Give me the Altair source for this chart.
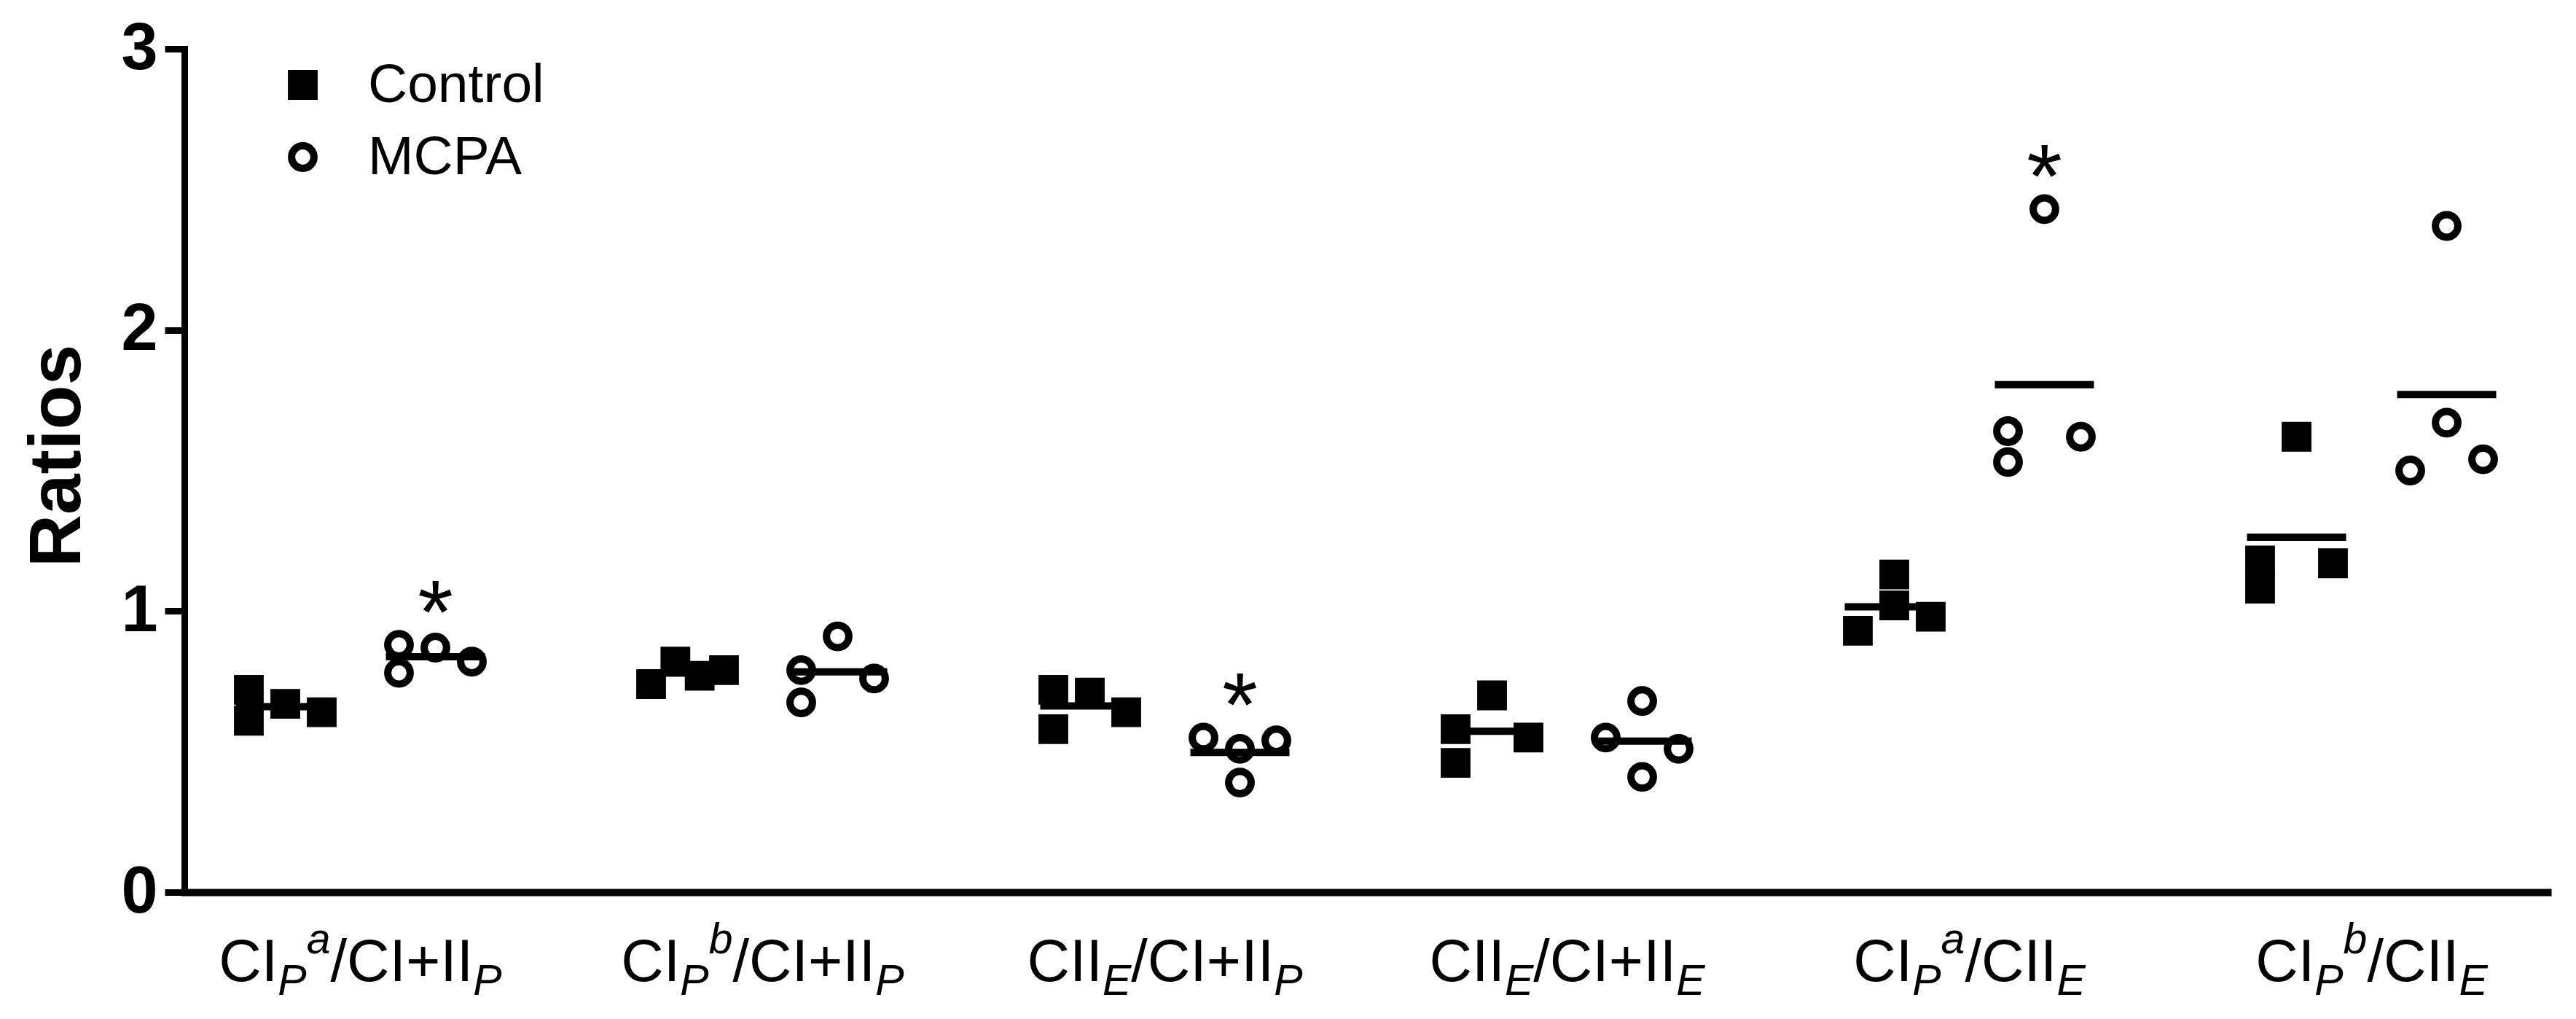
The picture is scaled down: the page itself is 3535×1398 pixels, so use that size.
import altair as alt
import pandas as pd

# ---------------- data ----------------
categories = ["CIPa/CI+IIP", "CIPb/CI+IIP", "CIIE/CI+IIP", "CIIE/CI+IIE", "CIPa/CIIE", "CIPb/CIIE"]

# rich-text pieces of each x label (text, role)
label_parts = [
    [("CI", "main"), ("P", "sub"), ("a", "sup"), ("/CI+II", "main"), ("P", "sub")],
    [("CI", "main"), ("P", "sub"), ("b", "sup"), ("/CI+II", "main"), ("P", "sub")],
    [("CII", "main"), ("E", "sub"), ("/CI+II", "main"), ("P", "sub")],
    [("CII", "main"), ("E", "sub"), ("/CI+II", "main"), ("E", "sub")],
    [("CI", "main"), ("P", "sub"), ("a", "sup"), ("/CII", "main"), ("E", "sub")],
    [("CI", "main"), ("P", "sub"), ("b", "sup"), ("/CII", "main"), ("E", "sub")],
]

control_values = [
    [0.72, 0.61, 0.67, 0.64],
    [0.74, 0.82, 0.77, 0.79],
    [0.72, 0.58, 0.71, 0.64],
    [0.58, 0.46, 0.70, 0.55],
    [0.93, 1.13, 1.02, 0.98],
    [1.18, 1.08, 1.62, 1.17],
]
mcpa_values = [
    [0.88, 0.78, 0.87, 0.82],
    [0.79, 0.675, 0.91, 0.76],
    [0.55, 0.51, 0.39, 0.54],
    [0.55, 0.68, 0.41, 0.51],
    [1.64, 1.53, 2.43, 1.62],
    [1.50, 2.37, 1.67, 1.54],
]
# scatter column of each point inside its group (dodge slots)
control_slots = [
    [-1, -1, 0, 1],
    [-1, -1 / 3, 1 / 3, 1],
    [-1, -1, 0, 1],
    [-1, -1, 0, 1],
    [-1, 0, 0, 1],
    [-1, -1, 0, 1],
]
mcpa_slots = [
    [-1, -1, 0, 1],
    [-1, -1, 0, 1],
    [-1, 0, 0, 1],
    [-1, 0, 0, 1],
    [-1, -1, 0, 1],
    [-1, 0, 0, 1],
]
significant = [True, False, True, False, True, False]
groups = ["Control", "MCPA"]

# ---------------- layout ----------------
FONT = "Liberation Sans"
W_PX = 3243
H_PX = 1157
X_DOMAIN = [-0.4375, 5.4375]
PPU = W_PX / (X_DOMAIN[1] - X_DOMAIN[0])
SIDE = 103 / PPU
SLOT = 50 / PPU
HALF = 68 / PPU
MAIN_SIZE = 81
SCRIPT_SIZE = 59
ADV = {"C": 722, "I": 278, "/": 278, "+": 584, "P": 667, "E": 667, "a": 556, "b": 556}

rows = []
for gi in range(len(categories)):
    for grp, vals, slots in (("Control", control_values, control_slots), ("MCPA", mcpa_values, mcpa_slots)):
        for v, s in zip(vals[gi], slots[gi]):
            rows.append(dict(gi=gi, cat=categories[gi], group=grp, value=v, slot=s, sig=significant[gi]))
points = pd.DataFrame(rows)

lab_rows = []
for gi, parts in enumerate(label_parts):
    widths = [sum(ADV[c] for c in t) / 1000 * (MAIN_SIZE if r == "main" else SCRIPT_SIZE) for t, r in parts]
    cum = -sum(widths) / 2
    for (t, r), w in zip(parts, widths):
        lab_rows.append(dict(gi=gi, text=t, role=r, xs=gi + cum / PPU))
        cum += w
labels = pd.DataFrame(lab_rows)

x_scale = alt.Scale(domain=X_DOMAIN, nice=False, zero=False)
y_scale = alt.Scale(domain=[0, 3], nice=False, zero=True)

x_axis = alt.Axis(labels=False, ticks=False, title=None, domainWidth=10,
                  domainColor="black", domainCap="square", grid=False)
y_axis = alt.Axis(values=[0, 1, 2, 3], title="Ratios", grid=False,
                  titleFont=FONT, titleFontSize=100, titleFontWeight="bold",
                  titleColor="black", titleX=-143.5, titleY=558, titleAngle=270,
                  titleAlign="center", titleBaseline="alphabetic",
                  labelFont=FONT, labelFontSize=90, labelFontWeight="bold",
                  labelColor="black", labelPadding=10, tickSize=27, tickWidth=9,
                  tickColor="black", domainWidth=9, domainColor="black",
                  domainCap="square")

legend = alt.Legend(
    title=None, orient="none", legendX=125, legendY=12, padding=0,
    labelFont=FONT, labelFontSize=75, labelColor="black", labelLimit=0,
    labelOffset=52, rowPadding=23, symbolSize=950, symbolStrokeWidth=10,
)

base = alt.Chart(points).transform_calculate(
    xpos=f"datum.gi + (datum.group == 'Control' ? {-SIDE} : {SIDE}) + datum.slot * {SLOT}"
)

pts = base.mark_point(size=950, strokeWidth=10, opacity=1).encode(
    x=alt.X("xpos:Q", scale=x_scale, axis=x_axis),
    y=alt.Y("value:Q", scale=y_scale, axis=y_axis),
    shape=alt.Shape("group:N", scale=alt.Scale(domain=groups, range=["square", "circle"]), legend=legend),
    fill=alt.Fill("group:N", scale=alt.Scale(domain=groups, range=["black", "transparent"]), legend=legend),
    stroke=alt.Stroke("group:N", scale=alt.Scale(domain=groups, range=["black", "black"]), legend=legend),
)

means = alt.Chart(points).transform_aggregate(
    mean="mean(value)", groupby=["gi", "group"]
).transform_calculate(
    xc=f"datum.gi + (datum.group == 'Control' ? {-SIDE} : {SIDE})"
).transform_calculate(
    x1=f"datum.xc - {HALF}", x2=f"datum.xc + {HALF}"
).mark_rule(strokeWidth=10, color="black", strokeCap="butt").encode(
    x=alt.X("x1:Q", scale=x_scale, axis=x_axis),
    x2="x2:Q",
    y=alt.Y("mean:Q", scale=y_scale, axis=y_axis),
)

stars = alt.Chart(points).transform_filter(
    "datum.sig && datum.group == 'MCPA'"
).transform_aggregate(
    top="max(value)", groupby=["gi", "group"]
).transform_calculate(
    xc=f"datum.gi + {SIDE}"
).mark_text(text="*", font=FONT, fontSize=125, align="center", baseline="alphabetic",
            dy=-2, color="black").encode(
    x=alt.X("xc:Q", scale=x_scale, axis=x_axis),
    y=alt.Y("top:Q", scale=y_scale, axis=y_axis),
)

lab_base = alt.Chart(labels)
LAB_Y = 1279
lab_main = lab_base.transform_filter("datum.role == 'main'").mark_text(
    align="left", baseline="alphabetic", font=FONT, fontSize=MAIN_SIZE, color="black"
).encode(x=alt.X("xs:Q", scale=x_scale, axis=x_axis), y=alt.value(LAB_Y), text="text:N")
lab_sub = lab_base.transform_filter("datum.role == 'sub'").mark_text(
    align="left", baseline="alphabetic", font=FONT, fontSize=SCRIPT_SIZE, fontStyle="italic",
    dy=19, color="black"
).encode(x=alt.X("xs:Q", scale=x_scale, axis=x_axis), y=alt.value(LAB_Y), text="text:N")
lab_sup = lab_base.transform_filter("datum.role == 'sup'").mark_text(
    align="left", baseline="alphabetic", font=FONT, fontSize=SCRIPT_SIZE, fontStyle="italic",
    dy=-38, color="black"
).encode(x=alt.X("xs:Q", scale=x_scale, axis=x_axis), y=alt.value(LAB_Y), text="text:N")

chart = alt.layer(pts, means, stars, lab_main, lab_sub, lab_sup).properties(
    width=W_PX, height=H_PX,
    autosize=alt.AutoSizeParams(type="none"),
    padding={"left": 245, "top": 59, "right": 25, "bottom": 160},
    background="white",
).configure_view(stroke=None)

chart.save("out.html", embed_options={"renderer": "svg", "actions": False})
